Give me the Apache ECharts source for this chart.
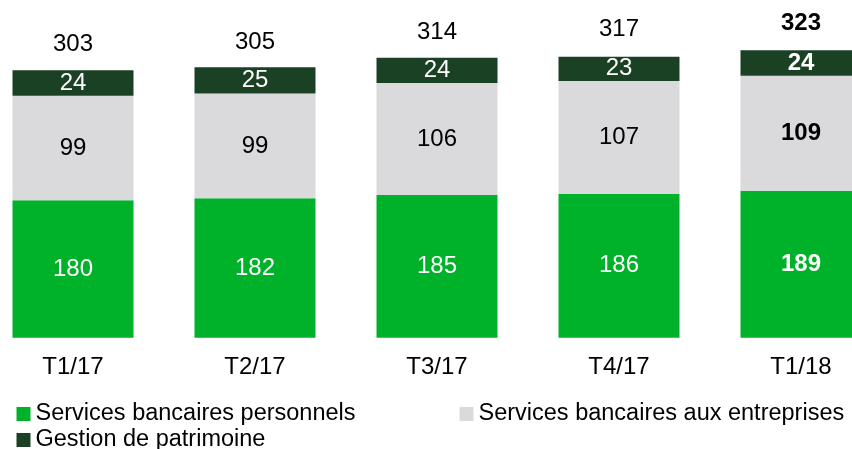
<!DOCTYPE html>
<html>
<head>
<meta charset="utf-8">
<script src="https://cdn.jsdelivr.net/npm/echarts@6/dist/echarts.min.js"></script>
<style>
  html, body { margin: 0; padding: 0; background: #ffffff; overflow: hidden; }
  #frame { width: 852px; height: 449px; overflow: hidden; position: relative; }
  /* the plot runs slightly past both page edges, so the canvas is wider and shifted left */
  #chart { position: absolute; left: -18.5px; top: 0; width: 910px; height: 449px; }
</style>
</head>
<body>
<div id="frame"><div id="chart"></div></div>
<script>
// Quarterly revenue split by business line
const quarters = ['T1/17', 'T2/17', 'T3/17', 'T4/17', 'T1/18'];
const personnels = [180, 182, 185, 186, 189];
const entreprises = [99, 99, 106, 107, 109];
const patrimoine = [24, 25, 24, 23, 24];
const totals = [303, 305, 314, 317, 323];

const seriesNames = [
  'Services bancaires personnels',
  'Services bancaires aux entreprises',
  'Gestion de patrimoine'
];
const colors = ['#00b22a', '#dadadc', '#1b4124'];
const FONT = '"Liberation Sans", Arial, sans-serif';
const lastIdx = quarters.length - 1;
const SHIFT = 18.5;

// Latest quarter values are printed in bold
function withBoldLast(values, color) {
  return values.map((v, i) => i === lastIdx
    ? { value: v, label: { fontWeight: 'bold', color: color } }
    : v);
}

function stackSeries(name, values, color, labelColor) {
  return {
    name: name,
    type: 'bar',
    stack: 'total',
    barWidth: 121,
    itemStyle: { color: color },
    label: {
      show: true,
      position: 'inside',
      color: labelColor,
      fontFamily: FONT,
      fontSize: 24
    },
    emphasis: { disabled: true },
    data: withBoldLast(values, labelColor)
  };
}

const chart = echarts.init(document.getElementById('chart'), null, { renderer: 'canvas' });

const legendBase = {
  orient: 'horizontal',
  itemWidth: 14,
  itemHeight: 14,
  itemGap: 4,
  icon: 'rect',
  textStyle: { fontFamily: FONT, fontSize: 23.5, color: '#000000' },
  selectedMode: false
};

chart.setOption({
  animation: false,
  backgroundColor: '#ffffff',
  grid: { left: 0, width: 910, top: 20.7, height: 317, containLabel: false },
  xAxis: {
    type: 'category',
    data: quarters,
    axisLine: { show: false },
    axisTick: { show: false },
    axisLabel: {
      margin: 18,
      fontFamily: FONT,
      fontSize: 24,
      color: '#000000'
    }
  },
  yAxis: {
    type: 'value',
    min: 50,
    max: 350,
    show: false,
    splitLine: { show: false }
  },
  legend: [
    Object.assign({}, legendBase, { data: [seriesNames[0]], left: 11 + SHIFT, top: 397 }),
    Object.assign({}, legendBase, { data: [seriesNames[1]], left: 454 + SHIFT, top: 397 }),
    Object.assign({}, legendBase, { data: [seriesNames[2]], left: 11 + SHIFT, top: 423 })
  ],
  series: [
    stackSeries(seriesNames[0], personnels, colors[0], '#ffffff'),
    stackSeries(seriesNames[1], entreprises, colors[1], '#000000'),
    stackSeries(seriesNames[2], patrimoine, colors[2], '#ffffff'),
    {
      // quarter totals written above each column
      name: 'Total',
      type: 'line',
      data: withBoldLast(totals, '#000000'),
      symbol: 'circle',
      symbolSize: 0,
      showSymbol: true,
      itemStyle: { color: 'transparent' },
      lineStyle: { width: 0, color: 'transparent' },
      silent: true,
      label: {
        show: true,
        position: 'top',
        distance: 14,
        color: '#000000',
        fontFamily: FONT,
        fontSize: 24
      }
    }
  ]
});
</script>
</body>
</html>
